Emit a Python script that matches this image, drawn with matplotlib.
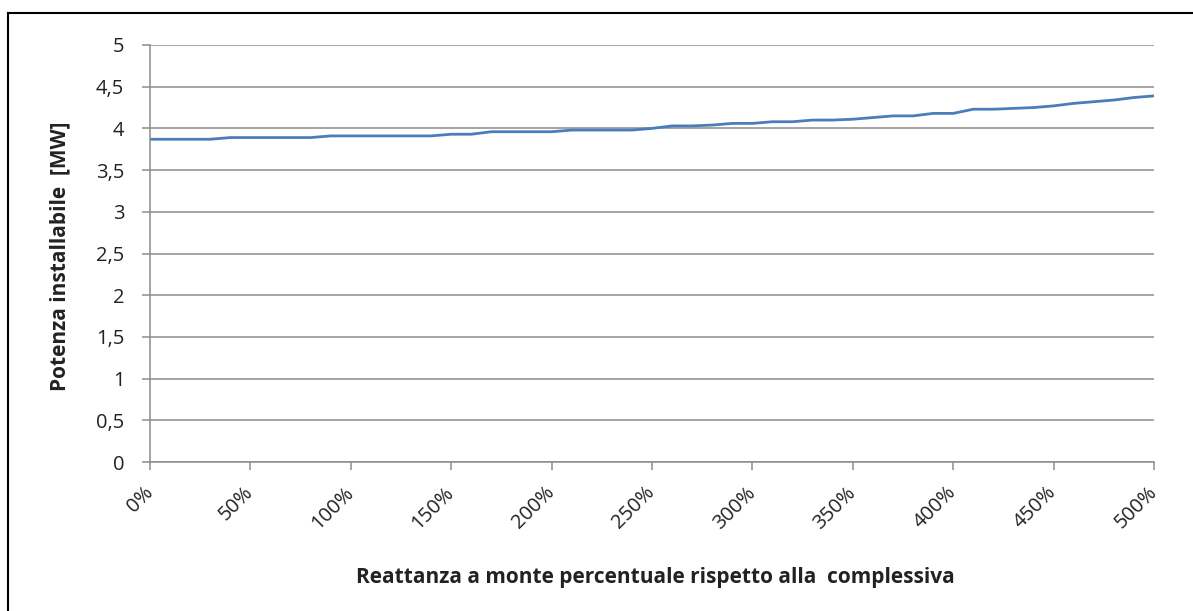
import numpy as np
import matplotlib
matplotlib.use('Agg')
import matplotlib.pyplot as plt
from matplotlib.ticker import FuncFormatter

# reattanza a monte (% of total), step 10%
reattanza = list(range(0, 510, 10))
potenza = [3.87, 3.87, 3.87, 3.87, 3.89, 3.89, 3.89, 3.89, 3.89, 3.91,
           3.91, 3.91, 3.91, 3.91, 3.91, 3.93, 3.93, 3.96, 3.96, 3.96,
           3.96, 3.98, 3.98, 3.98, 3.98, 4.00, 4.03, 4.03, 4.04, 4.06,
           4.06, 4.08, 4.08, 4.10, 4.10, 4.11, 4.13, 4.15, 4.15, 4.18,
           4.18, 4.23, 4.23, 4.24, 4.25, 4.27, 4.30, 4.32, 4.34, 4.37,
           4.39]
x_ticks = list(range(0, 550, 50))
y_ticks = [0, 0.5, 1, 1.5, 2, 2.5, 3, 3.5, 4, 4.5, 5]

plt.rcParams['font.family'] = ['Open Sans', 'DejaVu Sans']

fig = plt.figure(figsize=(11.93, 6.11), dpi=100)
ax = fig.add_axes([150/1193, 1-462/611, (1154-150)/1193, (462-45)/611])

ax.plot(reattanza, potenza, color='#4A7EBB', linewidth=2.0, solid_joinstyle='round')

grid_c = '#8C8C8C'
ax.set_xlim(0, 500)
ax.set_ylim(0, 5)
ax.set_yticks(y_ticks)
ax.set_xticks(x_ticks)
ax.yaxis.set_major_formatter(FuncFormatter(lambda v, p: ('%g' % v).replace('.', ',')))
ax.xaxis.set_major_formatter(FuncFormatter(lambda v, p: '%d%%' % v))
for t in ax.get_xticklabels():
    t.set_rotation(45)
    t.set_ha('right')
    t.set_va('center')
    t.set_rotation_mode('anchor')

ax.grid(axis='y', color=grid_c, linewidth=1.1)
ax.set_axisbelow(True)
for s in ['top', 'right']:
    ax.spines[s].set_visible(False)
for s in ['left', 'bottom']:
    ax.spines[s].set_color(grid_c)
    ax.spines[s].set_linewidth(1.1)
ax.tick_params(axis='both', direction='out', length=6, width=1.1, color=grid_c,
               labelsize=14.5, labelcolor='#222222')
ax.tick_params(axis='y', pad=12.5)
ax.tick_params(axis='x', pad=14)

fig.text(60/1193, 1-256/611, 'Potenza installabile  [MW]', rotation=90,
         ha='center', va='center', fontsize=15, fontweight='bold', color='#222222')
fig.text(655/1193, 1-578/611, 'Reattanza a monte percentuale rispetto alla  complessiva',
         ha='center', va='center', fontsize=15, fontweight='bold', color='#222222')

# outer chart border (top and left visible)
fig.add_artist(plt.Line2D([8/1193, 8/1193], [0, 1-13/611], color='black', linewidth=1.5))
fig.add_artist(plt.Line2D([8/1193, 1], [1-13/611, 1-13/611], color='black', linewidth=1.5))

fig.savefig('out.png', dpi=100)
